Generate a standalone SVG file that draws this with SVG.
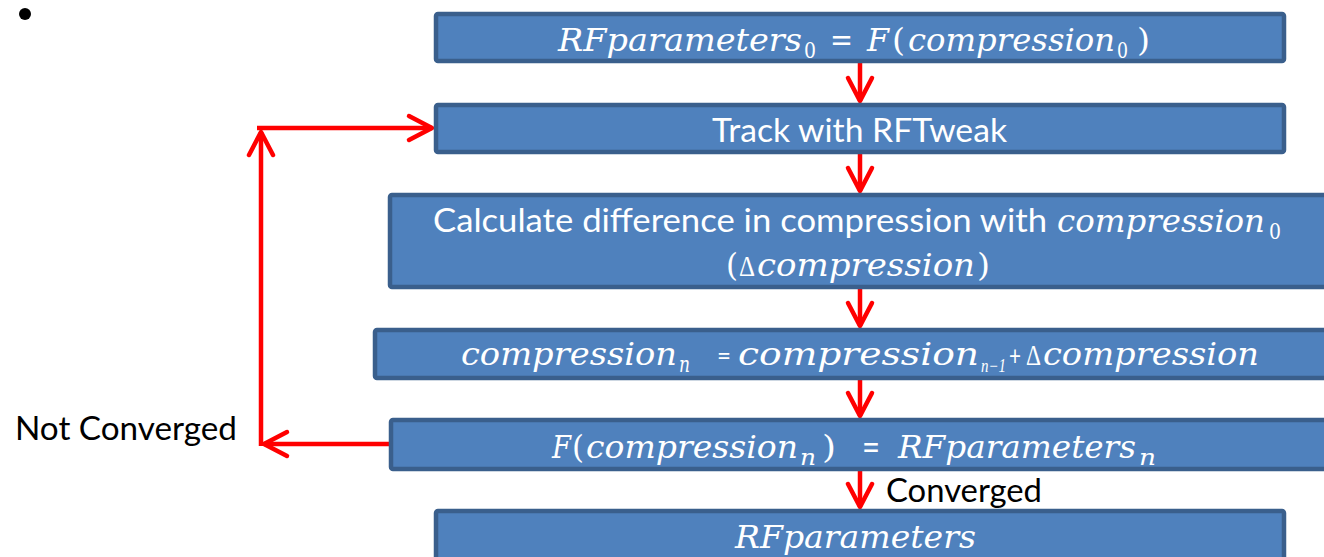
<svg xmlns="http://www.w3.org/2000/svg" width="1324" height="557" viewBox="0 0 1324 557">
  <defs>
    <style>
      .box { fill: #4f81bd; stroke: #3a5f8c; stroke-width: 4.5; }
      .lbl { font-family: Lato, "Open Sans", sans-serif; font-size: 33px; fill: #ffffff; }
      .side { font-family: Lato, "Open Sans", sans-serif; font-size: 33px; fill: #000000; }
      .eq { font-family: "DejaVu Serif", "Liberation Serif", serif; font-size: 32px; fill: #ffffff; }
      .i { font-style: italic; }
      .sub { font-size: 22px; }
      .nsub { font-family: "Liberation Serif", serif; font-style: italic; font-size: 18px; }
      .delta { font-family: "Liberation Serif", serif; font-size: 30px; }
      .op { font-family: Lato, "Open Sans", sans-serif; font-size: 26px; }
      .sans { font-family: Lato, "Open Sans", sans-serif; font-size: 33px; font-style: normal; }
      .flow { fill: none; stroke: #ff0000; stroke-width: 4.5; marker-end: url(#head); }
    </style>
    <marker id="head" markerUnits="userSpaceOnUse" viewBox="-30 -18 36 36" refX="0" refY="0" markerWidth="36" markerHeight="36" orient="auto">
      <path d="M-23,-12 L0,0 L-23,12" fill="none" stroke="#ff0000" stroke-width="4.5" stroke-linecap="round" stroke-linejoin="round"/>
    </marker>
  </defs>

  <!-- bullet -->
  <circle cx="25" cy="14" r="6" fill="#000000"/>

  <!-- connectors -->
  <g id="connectors">
    <path class="flow" d="M860,63 V101"/>
    <path class="flow" d="M860,154 V191"/>
    <path class="flow" d="M860,289 V326"/>
    <path class="flow" d="M860,380 V416"/>
    <path class="flow" d="M860,471 V507"/>
    <!-- feedback loop -->
    <path class="flow" d="M391,444 H264"/>
    <path class="flow" d="M261,446 V132"/>
    <path class="flow" d="M257,128 H432"/>
  </g>

  <g id="label-not-converged">
    <text class="side" x="15" y="440" textLength="222" lengthAdjust="spacingAndGlyphs">Not Converged</text>
  </g>
  <g id="label-converged">
    <text class="side" x="886" y="502" textLength="156" lengthAdjust="spacingAndGlyphs">Converged</text>
  </g>

  <!-- initial RF parameters -->
  <g id="node-init">
    <rect class="box" x="436" y="14" width="848" height="47" rx="2"/>
    <text class="eq" y="51"><tspan class="i" x="558" textLength="244" lengthAdjust="spacingAndGlyphs">RFparameters</tspan><tspan class="sub" x="804" y="58" textLength="12" lengthAdjust="spacingAndGlyphs">0</tspan><tspan x="830" y="51" textLength="23" lengthAdjust="spacingAndGlyphs">=</tspan><tspan class="i" x="867" textLength="22" lengthAdjust="spacingAndGlyphs">F</tspan><tspan x="892" textLength="13" lengthAdjust="spacingAndGlyphs">(</tspan><tspan class="i" x="908" textLength="207" lengthAdjust="spacingAndGlyphs">compression</tspan><tspan class="sub" x="1117" y="58" textLength="11" lengthAdjust="spacingAndGlyphs">0</tspan><tspan x="1137" y="51" textLength="13" lengthAdjust="spacingAndGlyphs">)</tspan></text>
  </g>

  <!-- tracking -->
  <g id="node-track">
    <rect class="box" x="436" y="105" width="848" height="47" rx="2"/>
    <text class="lbl" x="712" y="142" textLength="295" lengthAdjust="spacingAndGlyphs">Track with RFTweak</text>
  </g>

  <!-- difference -->
  <g id="node-diff">
    <rect class="box" x="390" y="195" width="945" height="92" rx="2"/>
    <text class="eq" y="232"><tspan class="sans" x="433" textLength="614" lengthAdjust="spacingAndGlyphs">Calculate difference in compression with</tspan><tspan class="i" x="1057" textLength="208" lengthAdjust="spacingAndGlyphs">compression</tspan><tspan class="sub" x="1269" y="239" textLength="12" lengthAdjust="spacingAndGlyphs">0</tspan></text>
    <text class="eq" y="276"><tspan x="726" textLength="12" lengthAdjust="spacingAndGlyphs">(</tspan><tspan class="delta" x="739" textLength="16" lengthAdjust="spacingAndGlyphs">Δ</tspan><tspan class="i" x="757" textLength="218" lengthAdjust="spacingAndGlyphs">compression</tspan><tspan x="977" textLength="13" lengthAdjust="spacingAndGlyphs">)</tspan></text>
  </g>

  <!-- update -->
  <g id="node-update">
    <rect class="box" x="375" y="330" width="960" height="48" rx="2"/>
    <text class="eq" y="365"><tspan class="i" x="461" textLength="216" lengthAdjust="spacingAndGlyphs">compression</tspan><tspan class="i sub" x="679" y="372" textLength="11" lengthAdjust="spacingAndGlyphs">n</tspan><tspan class="op" x="717" y="365" textLength="14" lengthAdjust="spacingAndGlyphs">=</tspan><tspan class="i" x="738" textLength="241" lengthAdjust="spacingAndGlyphs">compression</tspan><tspan class="nsub" x="981" y="372" textLength="25" lengthAdjust="spacingAndGlyphs">n−1</tspan><tspan class="op" x="1009" y="365" textLength="12" lengthAdjust="spacingAndGlyphs">+</tspan><tspan class="delta" x="1026" textLength="15" lengthAdjust="spacingAndGlyphs">Δ</tspan><tspan class="i" x="1043" textLength="216" lengthAdjust="spacingAndGlyphs">compression</tspan></text>
  </g>

  <!-- mapping -->
  <g id="node-map">
    <rect class="box" x="391" y="420" width="944" height="49" rx="2"/>
    <text class="eq" y="458"><tspan class="i" x="552" textLength="19" lengthAdjust="spacingAndGlyphs">F</tspan><tspan x="572" textLength="12" lengthAdjust="spacingAndGlyphs">(</tspan><tspan class="i" x="586" textLength="212" lengthAdjust="spacingAndGlyphs">compression</tspan><tspan class="i sub" x="800" y="465" textLength="16" lengthAdjust="spacingAndGlyphs">n</tspan><tspan x="822" y="458" textLength="14" lengthAdjust="spacingAndGlyphs">)</tspan><tspan x="862" textLength="18" lengthAdjust="spacingAndGlyphs">=</tspan><tspan class="i" x="898" textLength="238" lengthAdjust="spacingAndGlyphs">RFparameters</tspan><tspan class="i sub" x="1139" y="465" textLength="17" lengthAdjust="spacingAndGlyphs">n</tspan></text>
  </g>

  <!-- result -->
  <g id="node-result">
    <rect class="box" x="436" y="511" width="848" height="60" rx="2"/>
    <text class="eq i" x="735" y="548" textLength="241" lengthAdjust="spacingAndGlyphs">RFparameters</text>
  </g>
</svg>
